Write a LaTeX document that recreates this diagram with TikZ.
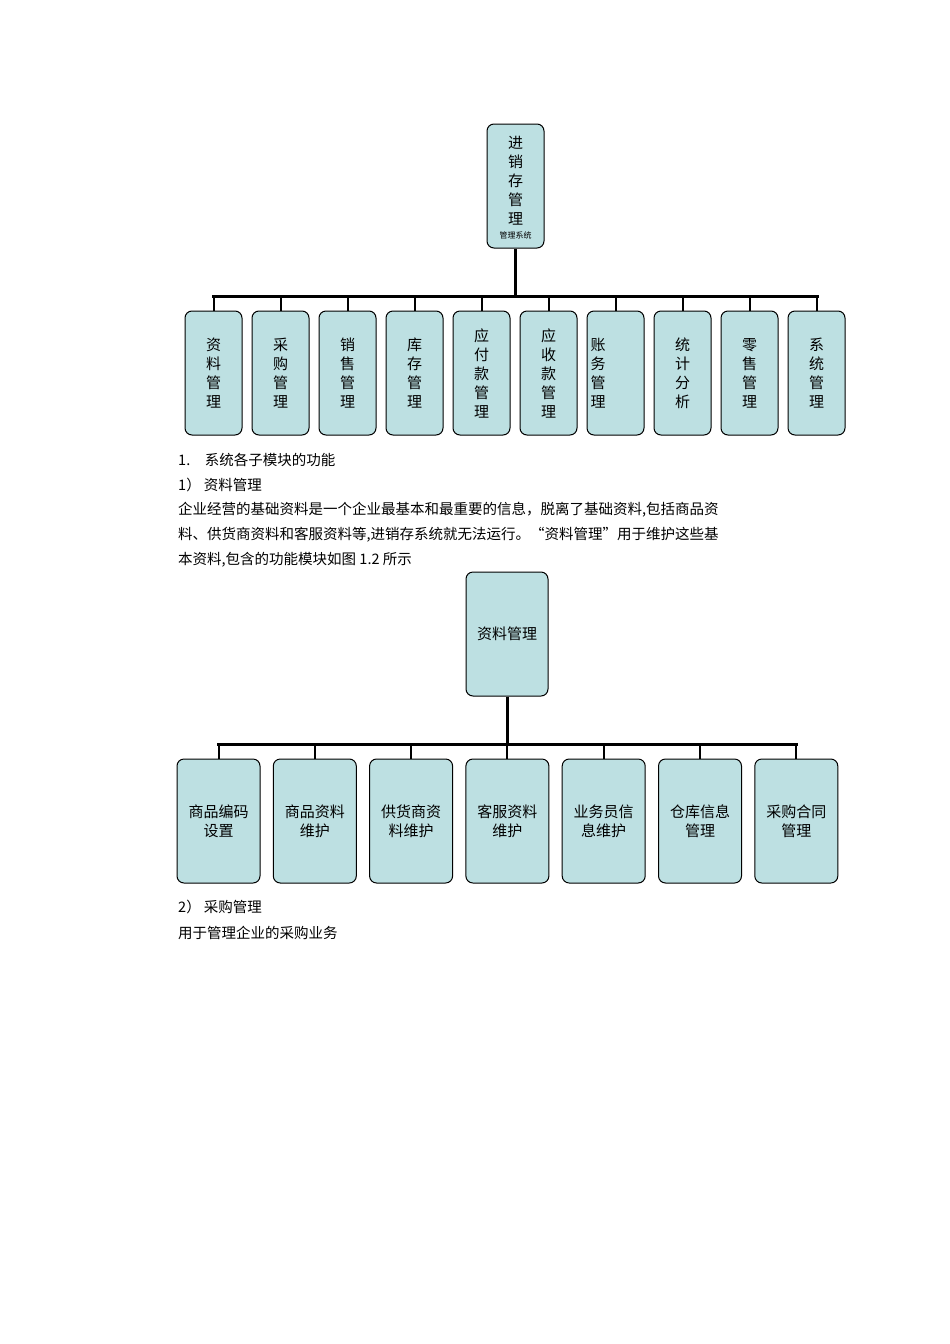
\documentclass[tikz,border=0pt]{standalone}
\usepackage{fontspec}
\setmainfont{Liberation Serif}
\newfontfamily\cjk{Noto Sans CJK SC}
\definecolor{boxfill}{HTML}{BDE0E2}
\begin{document}
\begin{tikzpicture}[x=1pt,y=-1pt,
  box/.style={draw=black,line width=1pt,fill=boxfill,rounded corners=7pt,inner sep=0pt,font=\cjk\fontsize{15}{19}\selectfont,align=center},
  bus/.style={line width=3pt},
  tick/.style={line width=2pt},
  txt/.style={anchor=west,inner sep=0pt,font=\cjk\fontsize{14.5}{18}\selectfont}]
\useasboundingbox[fill=white] (0,0) rectangle (950,1344);
% top chart
\node[box,minimum width=57pt,minimum height=124pt] (root) at (515.5,186) {};
\node[font=\cjk\fontsize{15}{19}\selectfont,align=center,inner sep=0pt] (roott) at (515.5,181) {进\\销\\存\\管\\理};
\node[font=\cjk\fontsize{8}{9}\selectfont,inner sep=0pt] (roots) at (515.5,235) {管理系统};
\coordinate (b1) at (515.5,296);
\draw[bus] (root.south) -- (b1);
\draw[bus] (212,296) -- (819,296);
\foreach \t [count=\i from 0] in {资\\料\\管\\理,采\\购\\管\\理,销\\售\\管\\理,库\\存\\管\\理,应\\付\\款\\管\\理,应\\收\\款\\管\\理,{},统\\计\\分\\析,零\\售\\管\\理,系\\统\\管\\理}{
  \node[box,minimum width=57pt,minimum height=124pt] (m\i) at (213.5+67*\i,373) {\t};
  \draw[tick] (213.5+67*\i,296) -- (m\i.north);
}
\node[font=\cjk\fontsize{15}{19}\selectfont,align=center,inner sep=0pt] (m6t) at (598,373) {账\\务\\管\\理};
% text
\node[txt] (l1) at (178,460) {1.\quad 系统各子模块的功能};
\node[txt] (l2) at (178,485) {1） 资料管理};
\node[txt] (l3) at (178,510) {企业经营的基础资料是一个企业最基本和最重要的信息，脱离了基础资料,包括商品资};
\node[txt] (l4) at (178,535) {料、供货商资料和客服资料等,进销存系统就无法运行。“资料管理”用于维护这些基};
\node[txt] (l5) at (178,560) {本资料,包含的功能模块如图 1.2 所示};
% second chart
\node[box,minimum width=82pt,minimum height=124pt] (r2) at (507,634) {资料管理};
\coordinate (b2) at (507,744);
\draw[bus] (r2.south) -- (b2);
\draw[bus] (217,744) -- (798,744);
\foreach \t [count=\i from 0] in {商品编码\\设置,商品资料\\维护,供货商资\\料维护,客服资料\\维护,业务员信\\息维护,仓库信息\\管理,采购合同\\管理}{
  \node[box,minimum width=83pt,minimum height=124pt] (s\i) at (218.5+96.3*\i,821) {\t};
  \draw[tick] (218.5+96.3*\i,744) -- (s\i.north);
}
\node[txt] (l6) at (178,907) {2） 采购管理};
\node[txt] (l7) at (178,933) {用于管理企业的采购业务};
\end{tikzpicture}
\end{document}
